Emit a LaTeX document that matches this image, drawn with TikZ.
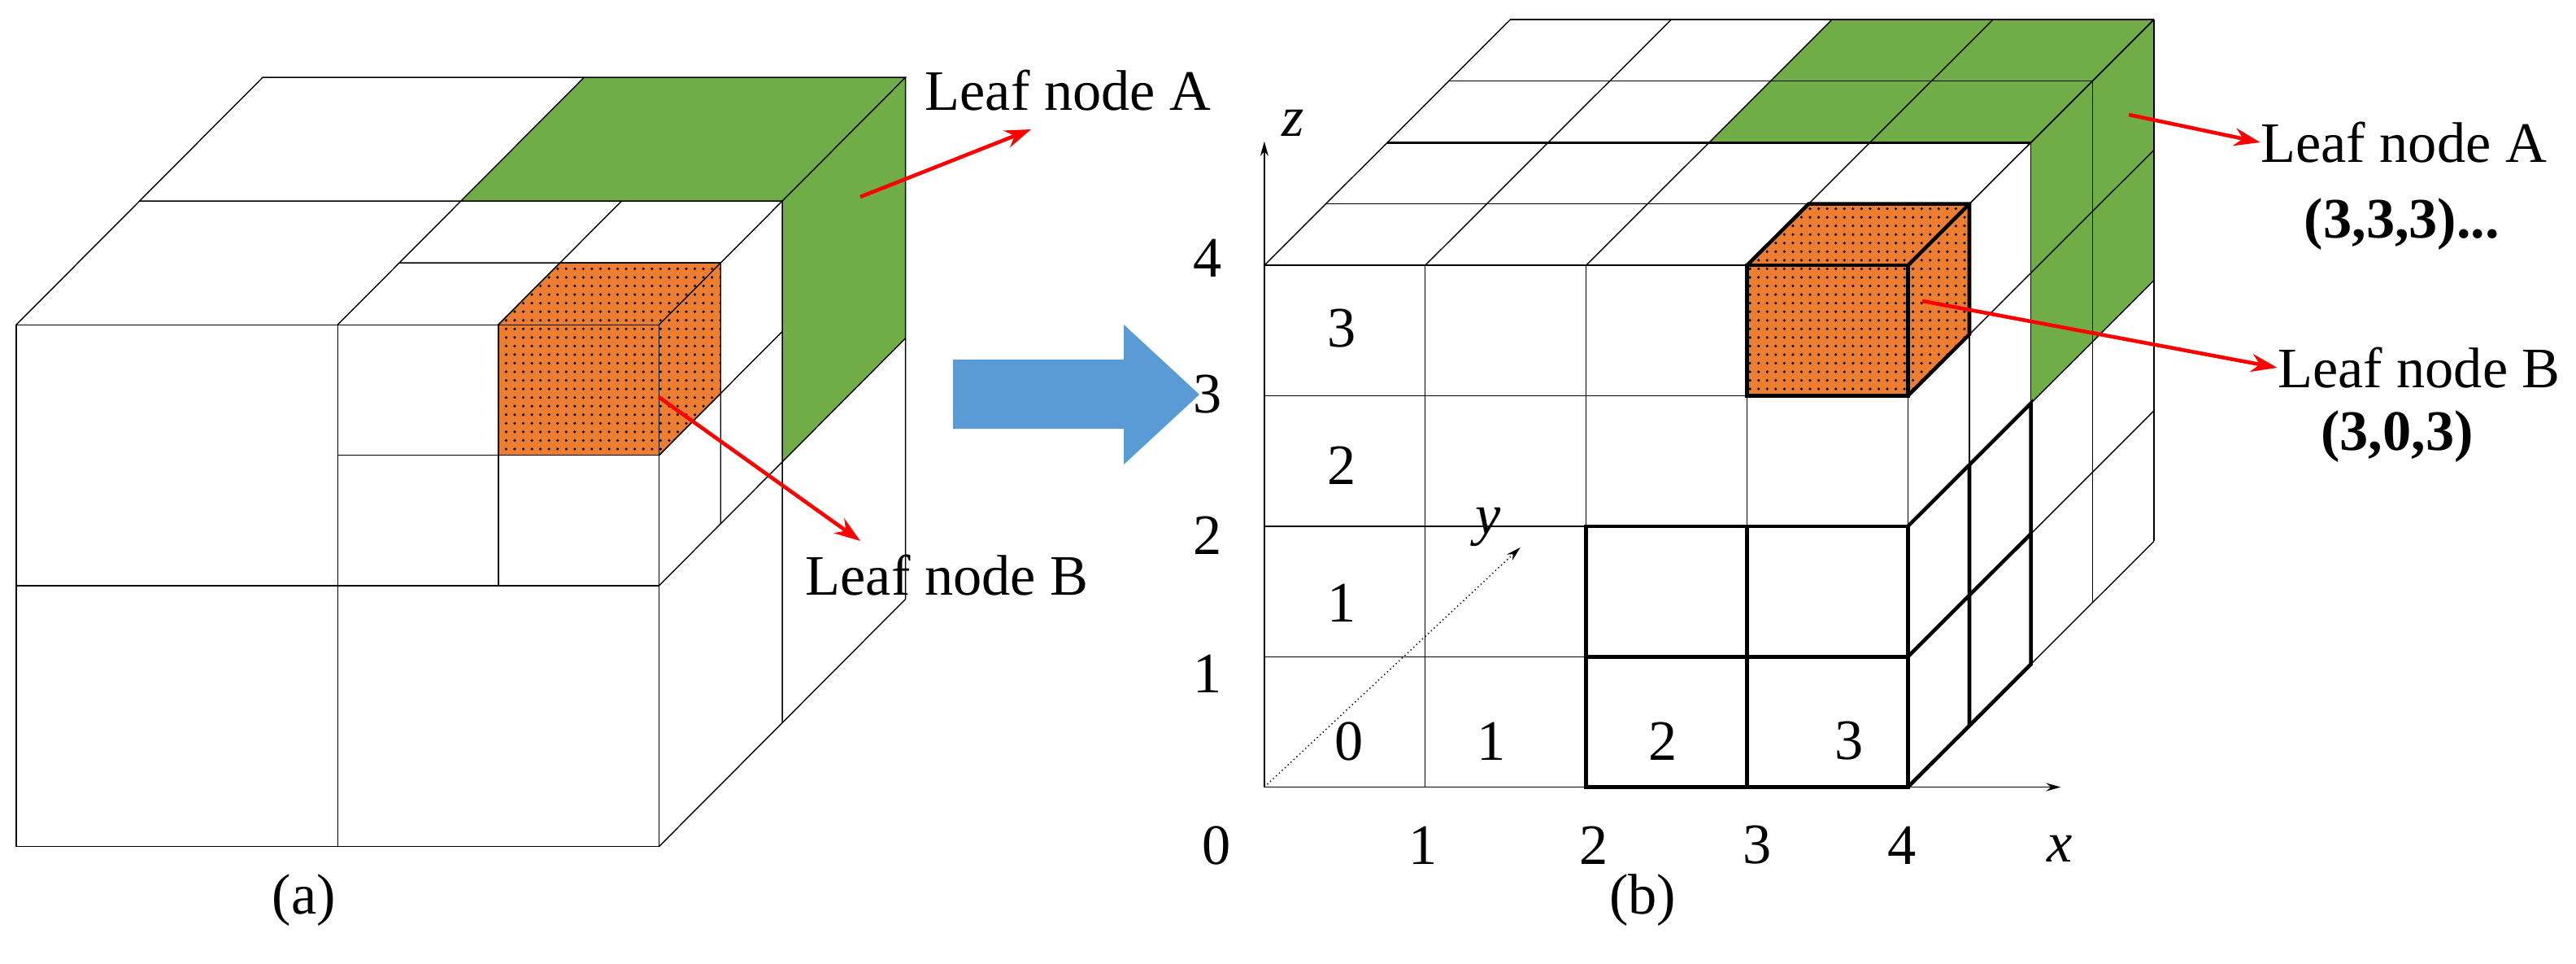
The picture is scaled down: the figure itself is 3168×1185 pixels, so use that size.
\documentclass[tikz,border=0pt]{standalone}
\usepackage{fontspec}
\setmainfont{Liberation Serif}
\usetikzlibrary{arrows.meta,patterns}
\definecolor{leafgreen}{HTML}{70AD47}
\definecolor{leaforange}{HTML}{ED7D31}
\definecolor{bluearrow}{HTML}{5B9BD5}
\begin{document}
\begin{tikzpicture}[x=0.01cm,y=-0.01cm,
  thin line/.style={black,line width=0.4pt},
  bold line/.style={black,line width=1.3pt},
  green face/.style={fill=leafgreen},
  orange face/.style={fill=leaforange,postaction={pattern=dots,pattern color=black}},
  lbl/.style={font=\fontsize{20}{24}\selectfont,inner sep=0pt},
  blbl/.style={font=\fontsize{20}{24}\selectfont\bfseries,inner sep=0pt},
  redarrow/.style={red,line width=1.3pt,-{Stealth[length=0.32cm,width=0.22cm]}},
  axis/.style={black,line width=0.5pt,-{Stealth[length=0.18cm,width=0.1cm]}}]
\useasboundingbox (0,0) rectangle (3168,1185);
\fill[white] (0,0) rectangle (3168,1185);

% ---------- Panel (a) ----------
\begin{scope}[shift={(0.20cm,-10.40cm)},x={(3.95cm,0cm)},y={(1.515cm,1.52cm)},z={(0cm,3.205cm)}]
  \fill[green face] (1,1,2) -- (2,1,2) -- (2,2,2) -- (1,2,2) -- cycle;
  \fill[green face] (2,1,1) -- (2,2,1) -- (2,2,2) -- (2,1,2) -- cycle;
  \draw[thin line] (0,0,0) rectangle (2,0,2);
  \draw[thin line] (1,0,0) -- (1,0,2) (0,0,1) -- (2,0,1);
  \draw[thin line] (0,0,2) -- (0,2,2) -- (2,2,2) -- (2,0,2);
  \draw[thin line] (1,0,2) -- (1,2,2) (0,1,2) -- (2,1,2);
  \draw[thin line] (2,0,0) -- (2,2,0) -- (2,2,2);
  \draw[thin line] (2,1,0) -- (2,1,2) (2,0,1) -- (2,2,1);
  \draw[thin line] (1.5,0,1) -- (1.5,0,2) (1,0,1.5) -- (2,0,1.5);
  \draw[thin line] (1.5,0,2) -- (1.5,1,2) (1,0.5,2) -- (2,0.5,2);
  \draw[thin line] (2,0.5,1) -- (2,0.5,2) (2,0,1.5) -- (2,1,1.5);
  \fill[orange face] (1.5,0,1.5) -- (2,0,1.5) -- (2,0,2) -- (1.5,0,2) -- cycle;
  \fill[orange face] (1.5,0,2) -- (2,0,2) -- (2,0.5,2) -- (1.5,0.5,2) -- cycle;
  \fill[orange face] (2,0,1.5) -- (2,0.5,1.5) -- (2,0.5,2) -- (2,0,2) -- cycle;
  \draw[thin line] (1.5,0,1.5) -- (2,0,1.5) -- (2,0,2) -- (1.5,0,2) -- cycle;
  \draw[thin line] (1.5,0,2) -- (1.5,0.5,2) -- (2,0.5,2) -- (2,0.5,1.5) -- (2,0,1.5);
  \draw[thin line] (2,0.5,2) -- (2,0,2);
\end{scope}
\coordinate (aAstart) at (1058,242);
\coordinate (aAend) at (1268,159);
\coordinate (aBstart) at (810,488);
\coordinate (aBend) at (1058,665);
\node[lbl,anchor=west] (aA) at (1137,111) {Leaf node A};
\node[lbl,anchor=west] (aB) at (990,707) {Leaf node B};
\draw[redarrow] (aAstart) -- (aAend);
\draw[redarrow] (aBstart) -- (aBend);
\node[lbl] (capa) at (374,1107) {(a)};

% ---------- Blue arrow ----------
\fill[bluearrow] (1172,442) -- (1382,442) -- (1382,399) -- (1475,485) -- (1382,571) -- (1382,527) -- (1172,527) -- cycle;

% ---------- Panel (b) ----------
\begin{scope}[shift={(15.54cm,-9.67cm)},x={(1.9775cm,0cm)},y={(0.756cm,0.755cm)},z={(0cm,1.6025cm)}]
  \fill[green face] (2,2,4) -- (4,2,4) -- (4,4,4) -- (2,4,4) -- cycle;
  \fill[green face] (4,2,2) -- (4,4,2) -- (4,4,4) -- (4,2,4) -- cycle;
  \foreach \i in {0,...,4} {
    \draw[thin line] (\i,0,0) -- (\i,0,4);
    \draw[thin line] (0,0,\i) -- (4,0,\i);
    \draw[thin line] (\i,0,4) -- (\i,4,4);
    \draw[thin line] (0,\i,4) -- (4,\i,4);
    \draw[thin line] (4,\i,0) -- (4,\i,4);
    \draw[thin line] (4,0,\i) -- (4,4,\i);
  }
  \draw[black,line width=0.9pt] (0,2,4) -- (4,2,4);
  \draw[bold line] (2,0,0) rectangle (4,0,2);
  \draw[bold line] (3,0,0) -- (3,0,2) (2,0,1) -- (4,0,1);
  \draw[bold line] (4,0,2) -- (4,2,2) -- (4,2,0) -- (4,0,0);
  \draw[bold line] (4,1,0) -- (4,1,2) (4,0,1) -- (4,2,1);
  \fill[orange face] (3,0,3) -- (4,0,3) -- (4,0,4) -- (3,0,4) -- cycle;
  \fill[orange face] (3,0,4) -- (4,0,4) -- (4,1,4) -- (3,1,4) -- cycle;
  \fill[orange face] (4,0,3) -- (4,1,3) -- (4,1,4) -- (4,0,4) -- cycle;
  \draw[bold line] (3,0,3) -- (4,0,3) -- (4,0,4) -- (3,0,4) -- cycle;
  \draw[bold line] (3,0,4) -- (3,1,4) -- (4,1,4) -- (4,1,3) -- (4,0,3);
  \draw[bold line] (4,1,4) -- (4,0,4);
  \coordinate (O) at (0,0,0);
  \coordinate (ztop) at (0,0,4);
  \coordinate (ztip) at (0,0,4.95);
  \coordinate (xend) at (4,0,0);
  \coordinate (xtip) at (4.95,0,0);
  \coordinate (ytip) at (0.1,3.9,0);
\end{scope}
\draw[axis] (ztop) -- (ztip);
\draw[axis] (xend) -- (xtip);
\draw[black,line width=0.4pt,densely dotted,-{Stealth[length=0.18cm,width=0.1cm]}] (O) -- (ytip);
\node[lbl,font=\fontsize{20}{24}\selectfont\itshape] (zl) at (1590,151) {z};
\node[lbl,font=\fontsize{20}{24}\selectfont\itshape] (xl) at (2533,1043) {x};
\node[lbl,font=\fontsize{20}{24}\selectfont\itshape] (yl) at (1830,648) {y};
\node[lbl] (bx0) at (1496,1039) {0};
\node[lbl] (bx1) at (1750,1039) {1};
\node[lbl] (bx2) at (1960,1039) {2};
\node[lbl] (bx3) at (2161,1039) {3};
\node[lbl] (bx4) at (2339,1039) {4};
\node[lbl] (bz1) at (1485,828) {1};
\node[lbl] (bz2) at (1485,658) {2};
\node[lbl] (bz3) at (1485,485) {3};
\node[lbl] (bz4) at (1485,317) {4};
\node[lbl] (c0) at (1659,911) {0};
\node[lbl] (c1) at (1834,911) {1};
\node[lbl] (c2) at (2045,911) {2};
\node[lbl] (c3) at (2274,911) {3};
\node[lbl] (r1) at (1650,741) {1};
\node[lbl] (r2) at (1650,572) {2};
\node[lbl] (r3) at (1650,404) {3};
\node[lbl] (bA) at (2956,175) {Leaf node A};
\node[blbl] (bAc) at (2954,276) {(3,3,3)...};
\node[lbl] (bB) at (2975,452) {Leaf node B};
\node[blbl] (bBc) at (2948,537) {(3,0,3)};
\coordinate (bAstart) at (2618,141);
\coordinate (bBstart) at (2364,370);
\draw[redarrow] (bAstart) -- (bA.west);
\draw[redarrow] (bBstart) -- (bB.west);
\node[lbl] (capb) at (2020,1107) {(b)};
\end{tikzpicture}
\end{document}
